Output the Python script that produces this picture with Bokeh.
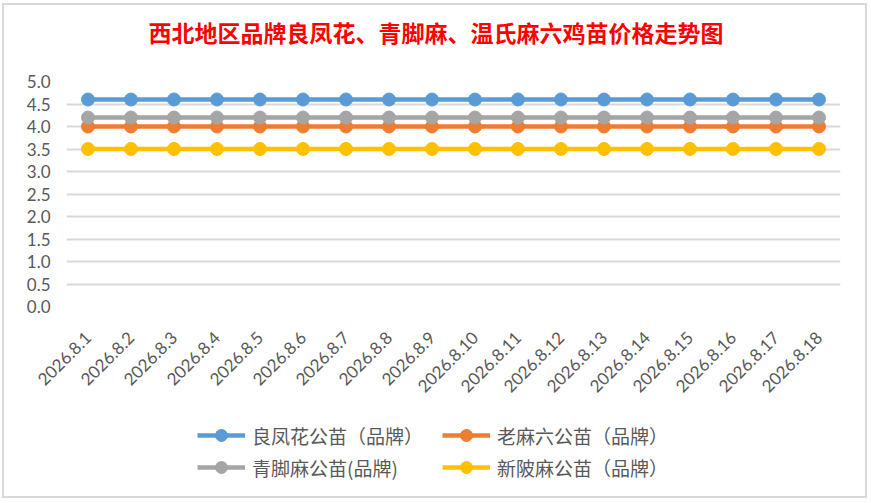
import math
from bokeh.plotting import figure
from bokeh.layouts import column
from bokeh.models import FactorRange, Range1d, SingleIntervalTicker, NumeralTickFormatter, Legend, LegendItem, Title
from bokeh.embed import file_html
from bokeh.resources import INLINE

dates = ["2026.8.%d" % d for d in range(1, 19)]
liangfenghua = [4.6] * 18
laomaliu = [4.0] * 18
qingjiaoma = [4.2] * 18
xinpoma = [3.5] * 18

series_names = ["良凤花公苗（品牌）", "老麻六公苗（品牌）", "青脚麻公苗(品牌)", "新陂麻公苗（品牌）"]
series_values = [liangfenghua, laomaliu, qingjiaoma, xinpoma]
series_colors = ["#5b9bd5", "#ed7d31", "#a5a5a5", "#ffc000"]

p = figure(width=859, height=399, x_range=FactorRange(*dates), y_range=Range1d(0, 5),
           output_backend="svg", toolbar_location=None,
           min_border_left=61, min_border_right=24, min_border_top=75, min_border_bottom=99)
p.outline_line_color = None
p.background_fill_color = "white"
p.border_fill_color = "white"

p.title.text = "西北地区品牌良凤花、青脚麻、温氏麻六鸡苗价格走势图"
p.title.text_color = "#ff0000"
p.title.text_font = "Noto Sans CJK SC"
p.title.text_font_style = "bold"
p.title.text_font_size = "23px"
p.title.align = "left"
p.title.offset = 82
p.title.standoff = 0
# blank spacer between the title and the plot area
p.add_layout(Title(text=" ", text_font_size="1px", standoff=30), "above")

p.yaxis.ticker = SingleIntervalTicker(interval=0.5)
p.yaxis.formatter = NumeralTickFormatter(format="0.0")
for ax in (p.xaxis, p.yaxis):
    ax.axis_line_color = None
    ax.major_tick_line_color = None
    ax.minor_tick_line_color = None
    ax.major_label_text_color = "#595959"
    ax.major_label_text_font = "Lato"
    ax.major_label_text_font_size = "17px"
p.yaxis.major_label_standoff = 10
p.xaxis.major_label_standoff = 22
p.xaxis.major_label_orientation = math.pi / 4
p.xgrid.grid_line_color = None
p.ygrid.grid_line_color = "#d9d9d9"
p.ygrid.grid_line_width = 2

for vals, col in zip(series_values, series_colors):
    p.line(dates, vals, line_color=col, line_width=4.5)
    p.scatter(dates, vals, marker="circle", size=13, fill_color=col, line_color=col)

# legend strip (same series, drawn outside its visible y range so only the legend shows)
lf = figure(width=859, height=90, x_range=FactorRange(*dates), y_range=Range1d(10, 11),
            output_backend="svg", toolbar_location=None,
            x_axis_location=None, y_axis_location=None,
            min_border_left=0, min_border_right=0, min_border_top=0, min_border_bottom=0)
lf.outline_line_color = None
lf.xgrid.grid_line_color = None
lf.ygrid.grid_line_color = None
lf.border_fill_color = "white"

items = []
for name, vals, col in zip(series_names, series_values, series_colors):
    l = lf.line(dates, vals, line_color=col, line_width=4.5)
    s = lf.scatter(dates, vals, marker="circle", size=13, fill_color=col, line_color=col)
    items.append(LegendItem(label=name, renderers=[l, s]))

def mk_legend(its, loc):
    return Legend(items=its, location=loc, orientation="vertical",
                  glyph_width=48, glyph_height=30, label_height=30, spacing=2,
                  label_standoff=7, padding=0, margin=0,
                  label_text_font="Noto Sans CJK SC", label_text_font_size="19px",
                  label_text_color="#595959", border_line_color=None,
                  background_fill_alpha=0)

lf.add_layout(mk_legend([items[0], items[2]], (131, 13)), "center")
lf.add_layout(mk_legend([items[1], items[3]], (376, 13)), "center")

layout = column(p, lf, spacing=0)
layout.styles = {"margin": "6px 0px 0px 5px", "outline": "2px solid #d9d9d9", "outline-offset": "1px"}

open("out.html", "w").write(file_html(layout, INLINE))
